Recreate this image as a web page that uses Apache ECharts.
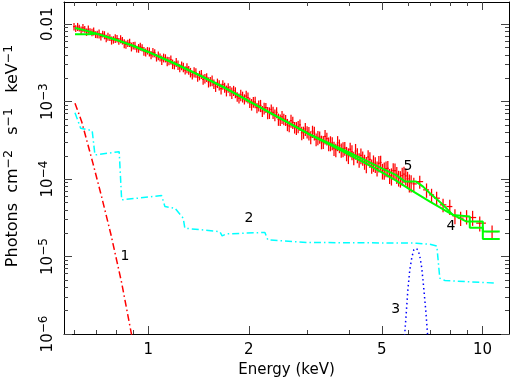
<!DOCTYPE html>
<html>
<head>
<meta charset="utf-8">
<title>Spectrum</title>
<script src="https://cdn.jsdelivr.net/npm/echarts@6/dist/echarts.min.js"></script>
<style>
  html, body { margin: 0; padding: 0; background: #fff; }
  #chart { width: 513px; height: 382px; }
</style>
</head>
<body>
<div id="chart"></div>
<script>
// observed spectrum: energy (keV), flux (photons cm^-2 s^-1 keV^-1), fractional error
const dataEnergy = [
  0.600, 0.607, 0.615, 0.622, 0.630, 0.638, 0.646, 0.654, 0.662, 0.670,
  0.679, 0.687, 0.696, 0.704, 0.713, 0.722, 0.731, 0.740, 0.749, 0.758,
  0.768, 0.777, 0.787, 0.797, 0.807, 0.817, 0.827, 0.837, 0.848, 0.858,
  0.869, 0.880, 0.891, 0.902, 0.913, 0.924, 0.936, 0.947, 0.959, 0.971,
  0.983, 0.995, 1.008, 1.020, 1.033, 1.046, 1.059, 1.072, 1.085, 1.098,
  1.112, 1.126, 1.140, 1.154, 1.169, 1.183, 1.198, 1.213, 1.228, 1.243,
  1.259, 1.274, 1.290, 1.306, 1.322, 1.338, 1.355, 1.372, 1.389, 1.406,
  1.424, 1.442, 1.460, 1.478, 1.496, 1.515, 1.534, 1.553, 1.572, 1.591,
  1.611, 1.631, 1.652, 1.672, 1.693, 1.714, 1.735, 1.757, 1.779, 1.801,
  1.823, 1.846, 1.869, 1.892, 1.916, 1.940, 1.964, 1.988, 2.013, 2.038,
  2.063, 2.089, 2.115, 2.141, 2.168, 2.195, 2.222, 2.249, 2.277, 2.305,
  2.334, 2.363, 2.393, 2.422, 2.452, 2.483, 2.514, 2.545, 2.577, 2.609,
  2.641, 2.674, 2.707, 2.741, 2.775, 2.809, 2.844, 2.879, 2.915, 2.951,
  2.988, 3.025, 3.063, 3.101, 3.140, 3.179, 3.218, 3.258, 3.299, 3.340,
  3.381, 3.423, 3.466, 3.509, 3.552, 3.596, 3.641, 3.686, 3.732, 3.779,
  3.826, 3.873, 3.921, 3.970, 4.019, 4.069, 4.120, 4.171, 4.223, 4.275,
  4.328, 4.382, 4.437, 4.492, 4.548, 4.604, 4.661, 4.719, 4.778, 4.837,
  4.897, 4.958, 5.020, 5.082, 5.145, 5.209, 5.274, 5.340, 5.406, 5.473,
  5.541, 5.610, 5.680, 5.751, 5.822, 5.894, 5.967, 6.041, 6.116,
  6.23, 6.49, 6.80, 7.04, 7.29, 7.62, 7.98, 8.27, 8.60, 8.96, 9.34, 9.81, 10.68
];
const dataFlux = [
  9.33e-3, 8.78e-3, 9.27e-3, 8.92e-3, 8.39e-3, 8.96e-3, 8.63e-3, 7.93e-3, 8.57e-3, 8.06e-3,
  7.85e-3, 8.10e-3, 7.36e-3, 7.41e-3, 7.53e-3, 6.92e-3, 7.46e-3, 7.25e-3, 6.58e-3, 6.93e-3,
  6.75e-3, 6.19e-3, 6.30e-3, 6.55e-3, 6.52e-3, 6.04e-3, 6.43e-3, 6.16e-3, 5.64e-3, 5.47e-3,
  5.69e-3, 5.78e-3, 5.11e-3, 5.29e-3, 5.30e-3, 4.79e-3, 4.91e-3, 5.15e-3, 4.98e-3, 4.49e-3,
  4.35e-3, 4.56e-3, 4.41e-3, 4.02e-3, 4.31e-3, 4.25e-3, 3.70e-3, 3.92e-3, 3.74e-3, 3.45e-3,
  3.69e-3, 3.65e-3, 3.33e-3, 3.36e-3, 3.48e-3, 3.06e-3, 2.96e-3, 3.23e-3, 2.97e-3, 2.73e-3,
  2.92e-3, 2.78e-3, 2.55e-3, 2.73e-3, 2.56e-3, 2.39e-3, 2.22e-3, 2.42e-3, 2.36e-3, 2.07e-3,
  2.19e-3, 2.26e-3, 1.94e-3, 2.00e-3, 2.06e-3, 1.79e-3, 1.82e-3, 1.88e-3, 1.69e-3, 1.57e-3,
  1.74e-3, 1.64e-3, 1.47e-3, 1.66e-3, 1.53e-3, 1.39e-3, 1.52e-3, 1.38e-3, 1.30e-3, 1.39e-3,
  1.32e-3, 1.16e-3, 1.11e-3, 1.22e-3, 1.16e-3, 1.08e-3, 1.18e-3, 1.13e-3, 9.73e-4, 9.23e-4,
  9.93e-4, 9.87e-4, 8.36e-4, 8.89e-4, 8.93e-4, 7.56e-4, 8.24e-4, 8.38e-4, 7.24e-4, 7.20e-4,
  7.94e-4, 7.28e-4, 6.75e-4, 7.27e-4, 5.94e-4, 5.83e-4, 6.35e-4, 5.96e-4, 5.79e-4, 5.07e-4,
  4.86e-4, 5.68e-4, 5.40e-4, 4.67e-4, 4.58e-4, 4.77e-4, 5.02e-4, 3.96e-4, 4.03e-4, 4.44e-4,
  4.07e-4, 3.93e-4, 3.49e-4, 4.14e-4, 3.94e-4, 3.27e-4, 3.46e-4, 3.49e-4, 3.03e-4, 3.03e-4,
  3.55e-4, 3.34e-4, 2.87e-4, 2.93e-4, 2.92e-4, 2.51e-4, 2.39e-4, 2.94e-4, 2.70e-4, 2.38e-4,
  2.45e-4, 2.51e-4, 2.15e-4, 2.03e-4, 2.43e-4, 2.24e-4, 1.88e-4, 2.31e-4, 2.05e-4, 1.78e-4,
  2.02e-4, 1.88e-4, 1.69e-4, 1.56e-4, 1.93e-4, 1.80e-4, 1.48e-4, 1.63e-4, 1.56e-4, 1.38e-4,
  1.60e-4, 1.64e-4, 1.28e-4, 1.31e-4, 1.37e-4, 1.38e-4, 1.11e-4, 1.10e-4, 1.29e-4, 1.29e-4,
  1.15e-4, 1.04e-4, 1.02e-4, 1.11e-4, 1.16e-4, 1.10e-4, 1.01e-4, 9.08e-5, 8.95e-5,
  8.67e-5, 9.28e-5, 7.26e-5, 6.25e-5, 5.67e-5, 4.65e-5, 4.42e-5, 3.35e-5, 3.13e-5, 3.28e-5, 3.19e-5, 2.70e-5, 2.10e-5
];
const dataErrFrac = [
  0.11, 0.10, 0.12, 0.10, 0.11, 0.12, 0.10, 0.11, 0.12, 0.10,
  0.11, 0.12, 0.10, 0.11, 0.13, 0.11, 0.10, 0.12, 0.11, 0.12,
  0.10, 0.12, 0.11, 0.13, 0.11, 0.10, 0.12, 0.11, 0.13, 0.12,
  0.11, 0.12, 0.13, 0.11, 0.12, 0.10, 0.13, 0.12, 0.11, 0.13,
  0.12, 0.11, 0.13, 0.12, 0.14, 0.12, 0.11, 0.13, 0.12, 0.14,
  0.13, 0.12, 0.14, 0.12, 0.13, 0.14, 0.12, 0.13, 0.14, 0.12,
  0.13, 0.14, 0.12, 0.15, 0.13, 0.14, 0.13, 0.15, 0.14, 0.13,
  0.14, 0.13, 0.15, 0.14, 0.13, 0.15, 0.14, 0.16, 0.14, 0.15,
  0.14, 0.15, 0.16, 0.14, 0.15, 0.16, 0.14, 0.15, 0.17, 0.15,
  0.16, 0.14, 0.15, 0.17, 0.16, 0.15, 0.17, 0.16, 0.15, 0.17,
  0.16, 0.17, 0.15, 0.16, 0.18, 0.16, 0.17, 0.15, 0.18, 0.17,
  0.16, 0.18, 0.17, 0.16, 0.18, 0.17, 0.19, 0.17, 0.16, 0.18,
  0.17, 0.19, 0.18, 0.17, 0.19, 0.18, 0.17, 0.20, 0.18, 0.19,
  0.18, 0.20, 0.19, 0.18, 0.20, 0.19, 0.21, 0.18, 0.20, 0.19,
  0.21, 0.19, 0.20, 0.22, 0.19, 0.21, 0.20, 0.22, 0.20, 0.21,
  0.22, 0.20, 0.21, 0.23, 0.21, 0.22, 0.20, 0.23, 0.22, 0.21,
  0.23, 0.21, 0.22, 0.24, 0.22, 0.23, 0.21, 0.24, 0.23, 0.22,
  0.24, 0.22, 0.23, 0.25, 0.23, 0.24, 0.22, 0.25, 0.24, 0.23,
  0.25, 0.23, 0.24, 0.26, 0.24, 0.25, 0.23, 0.26, 0.25,
  0.20, 0.19, 0.21, 0.20, 0.21, 0.20, 0.22, 0.22, 0.21, 0.21, 0.22, 0.22, 0.20
];

// total model (5) and continuum (4)
const modelEnergy = [0.604, 0.65, 0.7, 0.8, 0.9, 1.0, 1.2, 1.4, 1.7, 2.0, 2.5, 3.0, 3.5, 4.0, 4.5, 5.0, 5.5, 5.87, 6.33, 6.64, 6.96, 7.62, 8.15, 9.16, 9.16, 10.02, 10.02, 11.26];
const modelFlux = [8.93e-3, 8.29e-3, 7.56e-3, 6.31e-3, 5.26e-3, 4.38e-3, 3.11e-3, 2.26e-3, 1.50e-3, 1.015e-3, 5.98e-4, 3.9e-4, 2.86e-4, 2.19e-4, 1.717e-4, 1.378e-4, 1.133e-4, 9.28e-5, 9.28e-5, 8.0e-5, 6.58e-5, 4.65e-5, 3.45e-5, 3.28e-5, 2.83e-5, 2.83e-5, 2.11e-5, 2.11e-5];
const contEnergy = [0.604, 0.665, 0.7, 0.8, 0.9, 1.0, 1.2, 1.4, 1.7, 2.0, 2.5, 3.0, 3.5, 4.0, 4.5, 5.0, 5.5, 6.06, 6.96, 7.98, 8.96, 9.16, 9.16, 10.02, 10.02, 11.26];
const contFlux = [7.41e-3, 7.41e-3, 7.56e-3, 6.31e-3, 5.26e-3, 4.38e-3, 3.11e-3, 2.26e-3, 1.50e-3, 1.015e-3, 5.98e-4, 3.88e-4, 2.76e-4, 2.05e-4, 1.57e-4, 1.22e-4, 9.62e-5, 7.36e-5, 5.13e-5, 3.63e-5, 2.83e-5, 2.83e-5, 2.35e-5, 2.35e-5, 1.68e-5, 1.68e-5];

// component 1: soft thermal
const comp1Energy = [0.604, 0.633, 0.683, 0.727, 0.774, 0.833, 0.888, 0.912];
const comp1Flux = [9.54e-4, 5.47e-4, 1.62e-4, 5.72e-5, 1.91e-5, 4.58e-6, 1.08e-6, 5.9e-7];

// component 2: stepped background
const comp2Energy = [0.604, 0.628, 0.680, 0.686, 0.693, 0.819, 0.826, 0.833, 1.097, 1.122, 1.202, 1.273, 1.287, 1.638, 1.664, 1.716, 2.158, 2.234, 2.280, 2.977, 6.35, 6.96, 7.30, 7.45, 7.72, 11.01];
const comp2Flux = [7.21e-4, 4.54e-4, 4.22e-4, 4.19e-4, 2.05e-4, 2.26e-4, 2.24e-4, 5.39e-5, 6.12e-5, 4.42e-5, 4.21e-5, 3.13e-5, 2.32e-5, 2.10e-5, 1.85e-5, 1.96e-5, 2.04e-5, 2.05e-5, 1.64e-5, 1.52e-5, 1.49e-5, 1.44e-5, 1.37e-5, 5.26e-6, 4.90e-6, 4.54e-6];

// component 3: Fe line
const comp3Energy = [5.82, 5.90, 5.98, 6.06, 6.15, 6.23, 6.32, 6.41, 6.49, 6.58, 6.67, 6.77, 6.86];
const comp3Flux = [7.26e-7, 1.62e-6, 3.72e-6, 6.74e-6, 9.91e-6, 1.22e-5, 1.28e-5, 1.22e-5, 1.02e-5, 7.15e-6, 3.94e-6, 1.93e-6, 8.93e-7];

// component number labels
const labelText = ["1", "2", "3", "4", "5"];
const labelEnergy = [0.852, 2.0, 5.50, 8.04, 5.98];
const labelFlux = [1.02e-5, 3.07e-5, 2.05e-6, 2.49e-5, 1.48e-4];

const xRange = [0.56, 12.0];
const yRange = [1e-6, 0.01934];
const xMajorTicks = [1, 2, 5, 10];
const xMinorTicks = [0.6, 0.7, 0.8, 0.9, 3, 4, 6, 7, 8, 9];
const yMajorTicks = [1e-6, 1e-5, 1e-4, 1e-3, 0.01];

const font = "DejaVu Sans";
const lg = (v) => Math.log10(v);
const xMin = lg(xRange[0]);
const xMax = lg(xRange[1]);
const yMin = lg(yRange[0]);
const yMax = lg(yRange[1]);

const yMinorTicks = [];
yMajorTicks.forEach((d) => {
  for (let m = 2; m <= 9; m++) {
    if (d * m < yRange[1]) yMinorTicks.push(d * m);
  }
});

const pairs = (xs, ys) => xs.map((x, i) => [lg(x), lg(ys[i])]);

// error bars in log space, bin edges at log midpoints
const logE = dataEnergy.map(lg);
const errData = dataEnergy.map((e, i) => {
  const left = i > 0 ? (logE[i] + logE[i - 1]) / 2 : logE[i] - (logE[i + 1] - logE[i]) / 2;
  const right = i < logE.length - 1 ? (logE[i] + logE[i + 1]) / 2 : logE[i] + (logE[i] - logE[i - 1]) / 2;
  const f = dataFlux[i];
  const d = dataErrFrac[i];
  return [logE[i], lg(f), lg(f * (1 - d)), lg(f * (1 + d)), left, right];
});

const sup = { fontSize: 12, lineHeight: 12, verticalAlign: "top", fontFamily: font, color: "#000" };
const titleSup = { fontSize: 12.5, lineHeight: 12, verticalAlign: "top", fontFamily: font, color: "#000" };

function xAxis(position, ticks, len, main) {
  return {
    type: "value",
    position,
    min: xMin,
    max: xMax,
    axisLine: { show: main, onZero: false, lineStyle: { color: "#000", width: 1 } },
    axisTick: { show: true, inside: true, length: len, customValues: ticks.map(lg), lineStyle: { color: "#444" } },
    axisLabel: {
      show: main && position === "bottom",
      customValues: ticks.map(lg),
      formatter: (v) => String(Math.round(Math.pow(10, v))),
      margin: 9,
      fontFamily: font,
      fontSize: 15,
      color: "#000"
    },
    splitLine: { show: false },
    name: main && position === "bottom" ? "Energy (keV)" : "",
    nameLocation: "middle",
    nameGap: 28,
    nameTextStyle: { fontFamily: font, fontSize: 15, color: "#000" }
  };
}

function yAxis(position, ticks, len, main) {
  return {
    type: "value",
    position,
    min: yMin,
    max: yMax,
    axisLine: { show: main, onZero: false, lineStyle: { color: "#000", width: 1 } },
    axisTick: { show: true, inside: true, length: len, customValues: ticks.map(lg), lineStyle: { color: "#444" } },
    axisLabel: {
      show: main && position === "left",
      customValues: ticks.map(lg),
      rotate: 90,
      formatter: (v) => {
        const p = Math.round(v);
        return p === -2 ? "0.01" : "10{sup|\u2212" + (-p) + "}";
      },
      margin: 6,
      fontFamily: font,
      fontSize: 15,
      lineHeight: 20,
      color: "#000",
      rich: { sup }
    },
    splitLine: { show: false },
    name: main && position === "left" ? "Photons  cm{sup|\u22122}   s{sup|\u22121}   keV{sup|\u22121}" : "",
    nameLocation: "middle",
    nameRotate: 90,
    nameGap: 40,
    nameTextStyle: {
      fontFamily: font,
      fontSize: 16,
      lineHeight: 22,
      color: "#000",
      padding: [0, 0, 0, 24],
      rich: { sup: titleSup }
    }
  };
}

function lineSeries(xs, ys, color, width, type, z) {
  return {
    type: "line",
    xAxisIndex: 0,
    yAxisIndex: 0,
    data: pairs(xs, ys),
    showSymbol: false,
    symbol: "none",
    clip: true,
    z,
    lineStyle: { color, width, type }
  };
}

const chart = echarts.init(document.getElementById("chart"));

chart.setOption({
  animation: false,
  backgroundColor: "#fff",
  grid: { left: 64, right: 4, top: 2, bottom: 48, outerBoundsMode: "none" },
  xAxis: [
    xAxis("bottom", xMajorTicks, 8, true),
    xAxis("bottom", xMinorTicks, 4, false),
    xAxis("top", xMajorTicks, 8, true),
    xAxis("top", xMinorTicks, 4, false)
  ],
  yAxis: [
    yAxis("left", yMajorTicks, 8, true),
    yAxis("left", yMinorTicks, 4, false),
    yAxis("right", yMajorTicks, 8, true),
    yAxis("right", yMinorTicks, 4, false)
  ],
  series: [
    {
      type: "custom",
      xAxisIndex: 0,
      yAxisIndex: 0,
      z: 2,
      data: errData,
      renderItem: (params, api) => {
        const p = api.coord([api.value(0), api.value(1)]);
        const lo = api.coord([api.value(0), api.value(2)]);
        const hi = api.coord([api.value(0), api.value(3)]);
        const l = api.coord([api.value(4), api.value(1)]);
        const r = api.coord([api.value(5), api.value(1)]);
        const style = { stroke: "#ff0000", lineWidth: 1.25 };
        return {
          type: "group",
          children: [
            { type: "line", shape: { x1: p[0], y1: lo[1], x2: p[0], y2: hi[1] }, style },
            { type: "line", shape: { x1: l[0], y1: p[1], x2: r[0], y2: p[1] }, style }
          ]
        };
      }
    },
    lineSeries(contEnergy, contFlux, "#00ff00", 2, "solid", 3),
    lineSeries(modelEnergy, modelFlux, "#00ff00", 2, "solid", 3),
    lineSeries(comp1Energy, comp1Flux, "#ff0000", 1.5, [7, 3, 1.5, 3], 3),
    lineSeries(comp2Energy, comp2Flux, "#00ffff", 1.5, [7, 3, 1.5, 3], 3),
    lineSeries(comp3Energy, comp3Flux, "#0000ff", 1.5, [1.5, 3], 3),
    {
      type: "custom",
      xAxisIndex: 0,
      yAxisIndex: 0,
      z: 4,
      data: labelText.map((t, i) => [lg(labelEnergy[i]), lg(labelFlux[i]), t]),
      renderItem: (params, api) => {
        const p = api.coord([api.value(0), api.value(1)]);
        return {
          type: "text",
          x: p[0],
          y: p[1],
          style: {
            text: labelText[params.dataIndex],
            fontFamily: font,
            fontSize: 14,
            fill: "#000",
            align: "center",
            verticalAlign: "middle"
          }
        };
      }
    }
  ]
});

window.addEventListener("resize", () => chart.resize());
</script>
</body>
</html>
